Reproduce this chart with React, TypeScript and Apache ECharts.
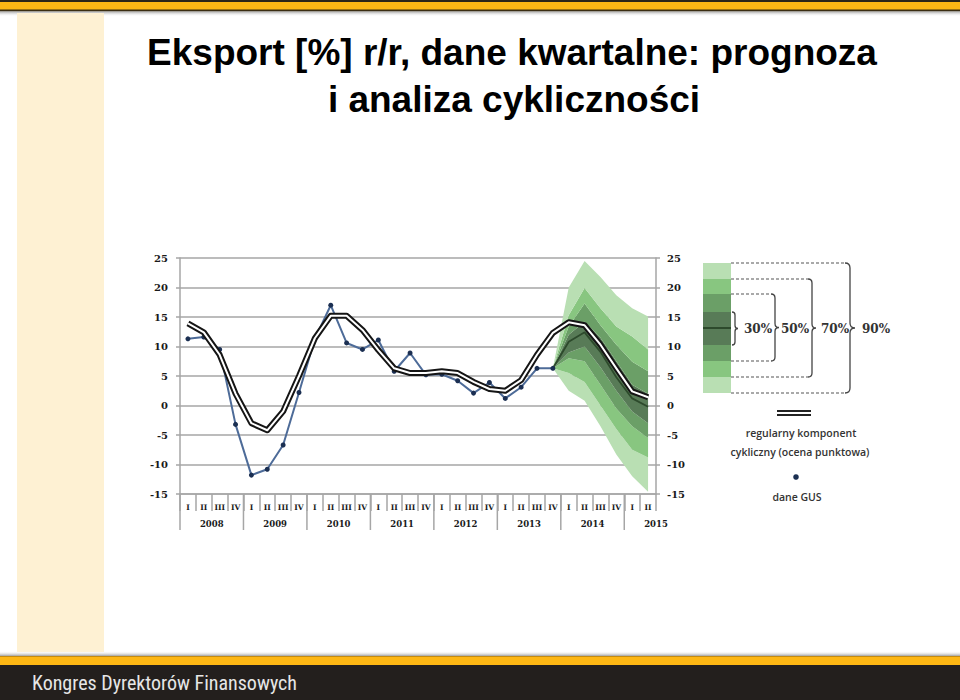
import React, { useEffect, useRef } from 'react';
import * as echarts from 'echarts';

// ---------- DATA ----------
const years = ['2008', '2009', '2010', '2011', '2012', '2013', '2014', '2015'];
const quarterNames = ['I', 'II', 'III', 'IV'];
const quartersPerYear = [4, 4, 4, 4, 4, 4, 4, 2];

// GUS data (dots), 2008 I .. 2013 IV
const gusData = [
  11.3, 11.6, 9.5, -3.2,
  -11.8, -10.8, -6.7, 2.2,
  11.3, 17.0, 10.6, 9.5,
  11.1, 5.8, 8.9, 5.2,
  5.3, 4.2, 2.1, 3.9,
  1.2, 3.1, 6.3, 6.3,
];

// regular cyclical component (double line), 2008 I .. 2015 II
const cyclicData = [
  13.9, 12.4, 8.6, 2.0,
  -3.0, -4.2, -1.0, 5.0,
  11.4, 15.2, 15.2, 12.8,
  9.4, 6.3, 5.5, 5.5,
  5.8, 5.5, 4.0, 2.8,
  2.5, 4.3, 8.6, 12.3,
  14.1, 13.6, 10.3, 6.3,
  2.4, 1.4,
];

// fan chart, from 2013 IV (index 23) to 2015 II
const fanStartIndex = 23;
const fanMedian = [6.3, 10.8, 12.4, 9.1, 4.8, 1.2, -0.2];
const fan90Low = [6.3, 2.5, 0.8, -3.5, -8.3, -12.0, -14.6];
const fan70Low = [6.3, 5.5, 4.0, 0.0, -4.0, -7.5, -8.8];
const fan50Low = [6.3, 8.0, 7.5, 3.5, -0.5, -3.5, -5.5];
const fan30Low = [6.3, 9.0, 10.0, 6.5, 2.5, -1.0, -3.0];
const fan30High = [6.3, 12.0, 14.2, 11.5, 7.5, 3.5, 2.0];
const fan50High = [6.3, 13.4, 17.3, 13.6, 10.3, 7.4, 5.8];
const fan70High = [6.3, 15.3, 19.9, 16.5, 13.4, 11.7, 9.5];
const fan90High = [6.3, 20.0, 24.5, 21.8, 18.7, 16.5, 15.1];

const yMin = -15;
const yMax = 25;
const yStep = 5;

const bandLabels = ['30%', '50%', '70%', '90%'];
const titleLines = ['Eksport [%] r/r, dane kwartalne: prognoza', 'i analiza cykliczności'];
const legendCyclic = ['regularny komponent', 'cykliczny (ocena punktowa)'];
const legendGus = 'dane GUS';
const footerText = 'Kongres Dyrektorów Finansowych';

// ---------- derived ----------
const categories: string[] = [];
const yearStarts: number[] = [];
const yearLabelAt: { pos: number; text: string }[] = [];
years.forEach((y, k) => {
  const start = categories.length;
  yearStarts.push(start);
  for (let q = 0; q < quartersPerYear[k]; q++) categories.push(`${y} ${quarterNames[q]}`);
  const full = quartersPerYear[k] === 4;
  yearLabelAt.push({ pos: full ? start + quartersPerYear[k] / 2 : start + quartersPerYear[k], text: y });
});
const totalQ = categories.length;

const pad = (arr: number[]) => [...Array(fanStartIndex).fill(null), ...arr];
const diff = (a: number[], b: number[]) => a.map((v, i) => +(v - b[i]).toFixed(3));

const C_LIGHT = '#b9dfb3';
const C_MED = '#88c680';
const C_DARK = '#6b9f67';
const C_DARKEST = '#587b57';
const C_MEDIAN = '#2d4a2c';

const BraceShape = (echarts as any).graphic.extendShape({
  type: 'brace',
  shape: { x: 0, y1: 0, y2: 0, r: 4, tip: 4 },
  buildPath(ctx: any, s: any) {
    const ym = (s.y1 + s.y2) / 2;
    ctx.moveTo(s.x - s.r, s.y1);
    ctx.quadraticCurveTo(s.x, s.y1, s.x, s.y1 + s.r);
    ctx.lineTo(s.x, ym - s.r);
    ctx.quadraticCurveTo(s.x, ym, s.x + s.tip, ym);
    ctx.quadraticCurveTo(s.x, ym, s.x, ym + s.r);
    ctx.lineTo(s.x, s.y2 - s.r);
    ctx.quadraticCurveTo(s.x, s.y2, s.x - s.r, s.y2);
  },
});
(echarts as any).graphic.registerShape('brace', BraceShape);

function txt(x: number, y: number, text: string, font: string, fill: string, align = 'center', valign = 'middle', z = 10) {
  return {
    type: 'text', x, y, z, silent: true,
    style: { text, font, fill, textAlign: align, align, textVerticalAlign: valign, verticalAlign: valign },
  };
}

export default function App() {
  const ref = useRef<HTMLDivElement>(null);

  useEffect(() => {
    document.body.style.margin = '0';
    if (!ref.current) return;
    const chart = echarts.init(ref.current, undefined, { renderer: 'svg' });

    const grey = '#a6a6a6';
    const axisFont = { fontFamily: '"DejaVu Serif", serif', fontWeight: 'bold' as const, color: '#1a1a1a' };

    const bandSeries: any[] = [
      {
        type: 'line', stack: 'fan', stackStrategy: 'all', data: pad(fan90Low), symbol: 'none',
        lineStyle: { width: 0, opacity: 0 }, silent: true, z: 2,
      },
    ];
    const layers: [number[], number[], string][] = [
      [fan70Low, fan90Low, C_LIGHT],
      [fan50Low, fan70Low, C_MED],
      [fan30Low, fan50Low, C_DARK],
      [fan30High, fan30Low, C_DARKEST],
      [fan50High, fan30High, C_DARK],
      [fan70High, fan50High, C_MED],
      [fan90High, fan70High, C_LIGHT],
    ];
    layers.forEach(([up, lo, color]) => {
      bandSeries.push({
        type: 'line', stack: 'fan', stackStrategy: 'all', data: pad(diff(up, lo)), symbol: 'none',
        lineStyle: { width: 0, opacity: 0 }, areaStyle: { color, opacity: 1 }, silent: true, z: 2,
      });
    });

    const swX = 703, swW = 28;
    const swatch: [number, number, string][] = [
      [263, 279, C_LIGHT], [279, 294, C_MED], [294, 312, C_DARK], [312, 345, C_DARKEST],
      [345, 361, C_DARK], [361, 377, C_MED], [377, 393, C_LIGHT],
    ];
    const legendEls: any[] = swatch.map(([a, b, c]) => ({
      type: 'rect', silent: true, shape: { x: swX, y: a, width: swW, height: b - a }, style: { fill: c },
    }));
    legendEls.push({ type: 'line', silent: true, shape: { x1: swX, y1: 328, x2: swX + swW, y2: 328 }, style: { stroke: C_MEDIAN, lineWidth: 2 } });
    const braces = [
      { x: 735, y1: 312, y2: 345, r: 3, tip: 3, lx: 744, dashed: false },
      { x: 775, y1: 294, y2: 361, r: 4, tip: 4, lx: 781, dashed: true },
      { x: 812, y1: 279, y2: 377, r: 4, tip: 4, lx: 821, dashed: true },
      { x: 850, y1: 263, y2: 393, r: 5, tip: 5, lx: 862, dashed: true },
    ];
    braces.forEach((b, i) => {
      if (b.dashed) {
        [b.y1, b.y2].forEach((yy) => legendEls.push({
          type: 'line', silent: true, shape: { x1: swX + swW, y1: yy, x2: b.x - b.r, y2: yy },
          style: { stroke: '#555', lineWidth: 1.2, lineDash: [3, 2] },
        }));
      }
      legendEls.push({
        type: 'brace', silent: true, shape: { x: b.x, y1: b.y1, y2: b.y2, r: b.r, tip: b.tip },
        style: { stroke: '#444', fill: 'none', lineWidth: 1.3 },
      });
      legendEls.push(txt(b.lx, 329, bandLabels[i], 'bold 12px "DejaVu Serif", serif', '#333', 'left'));
    });
    legendEls.push({ type: 'line', silent: true, shape: { x1: 777, y1: 411, x2: 811, y2: 411 }, style: { stroke: '#222', lineWidth: 1.8 } });
    legendEls.push({ type: 'line', silent: true, shape: { x1: 777, y1: 415, x2: 811, y2: 415 }, style: { stroke: '#222', lineWidth: 1.8 } });
    legendEls.push(txt(801, 433, legendCyclic[0], '600 10.5px "Open Sans", sans-serif', '#333'));
    legendEls.push(txt(800, 452, legendCyclic[1], '600 10.5px "Open Sans", sans-serif', '#333'));
    legendEls.push({ type: 'circle', silent: true, shape: { cx: 796, cy: 477, r: 2.8 }, style: { fill: '#1b2f52' } });
    legendEls.push(txt(797, 497, legendGus, '600 10.5px "Open Sans", sans-serif', '#333'));

    const frame: any[] = [
      { type: 'rect', silent: true, shape: { x: 0, y: 0, width: 960, height: 3 }, style: { fill: '#2c2418' } },
      { type: 'rect', silent: true, shape: { x: 0, y: 2, width: 960, height: 8 }, style: { fill: '#fdb614' } },
      { type: 'rect', silent: true, shape: { x: 0, y: 9.5, width: 960, height: 2 }, style: { fill: '#3b2e12' } },
      {
        type: 'rect', silent: true, shape: { x: 0, y: 11.5, width: 960, height: 5 },
        style: { fill: new echarts.graphic.LinearGradient(0, 0, 0, 1, [{ offset: 0, color: '#a8a8a8' }, { offset: 1, color: 'rgba(255,255,255,0)' }]) },
      },
      { type: 'rect', silent: true, shape: { x: 17, y: 13, width: 87, height: 639 }, style: { fill: '#fef1d3' } },
      {
        type: 'rect', silent: true, shape: { x: 0, y: 651, width: 960, height: 5 },
        style: { fill: new echarts.graphic.LinearGradient(0, 0, 0, 1, [{ offset: 0, color: 'rgba(255,255,255,0)' }, { offset: 1, color: '#a0a0a0' }]) },
      },
      { type: 'rect', silent: true, shape: { x: 0, y: 656, width: 960, height: 9 }, style: { fill: '#fdb614' } },
      { type: 'rect', silent: true, shape: { x: 0, y: 656, width: 960, height: 1 }, style: { fill: '#c48a10' } },
      { type: 'rect', silent: true, shape: { x: 0, y: 665, width: 960, height: 35 }, style: { fill: '#231f1d' } },
      txt(32, 683, footerText, '20px "Liberation Sans Narrow", "Roboto Condensed", "Arial Narrow", sans-serif', '#e6e6e6', 'left'),
      txt(512, 52, titleLines[0], 'bold 37px "Liberation Sans", Arial, sans-serif', '#000'),
      txt(514, 99, titleLines[1], 'bold 37px "Liberation Sans", Arial, sans-serif', '#000'),
    ];

    const option: any = {
      animation: false,
      backgroundColor: '#ffffff',
      grid: { left: 180, right: 304, top: 258, bottom: 206, containLabel: false, outerBoundsMode: 'none' },
      xAxis: [
        {
          type: 'category', position: 'bottom', data: categories, boundaryGap: true,
          axisLine: { show: true, onZero: false, lineStyle: { color: grey, width: 1.5 } },
          axisTick: { show: true, interval: 0, length: 17, lineStyle: { color: grey, width: 1.5 } },
          axisLabel: { interval: 0, margin: 9, fontSize: 7.5, ...axisFont, formatter: (v: string) => v.split(' ')[1] },
          splitLine: { show: false },
        },
        {
          // hidden quarter scale (0..30) used to place year separators and labels
          type: 'value', position: 'bottom', min: 0, max: totalQ, show: false,
        },
      ],
      yAxis: [
        {
          type: 'value', position: 'left', min: yMin, max: yMax, interval: yStep,
          axisLine: { show: true, onZero: false, lineStyle: { color: grey, width: 1.5 } },
          axisTick: { show: true, length: 4, lineStyle: { color: grey, width: 1.5 } },
          axisLabel: { margin: 12, fontSize: 10, ...axisFont },
          splitLine: { show: true, lineStyle: { color: grey, width: 1.5 } },
        },
        {
          type: 'value', position: 'right', min: yMin, max: yMax, interval: yStep,
          axisLine: { show: true, onZero: false, lineStyle: { color: grey, width: 1.5 } },
          axisTick: { show: true, length: 4, lineStyle: { color: grey, width: 1.5 } },
          axisLabel: { margin: 11, fontSize: 10, ...axisFont },
          splitLine: { show: false },
        },
      ],
      series: [
        ...bandSeries,
        { type: 'line', data: pad(fanMedian), symbol: 'none', silent: true, z: 3, lineStyle: { color: C_MEDIAN, width: 1.8 } },
        {
          type: 'line', data: gusData, symbol: 'circle', symbolSize: 5, silent: true, z: 4,
          lineStyle: { color: '#4d6b98', width: 2 }, itemStyle: { color: '#1b2f52' },
        },
        { type: 'line', data: cyclicData, symbol: 'none', silent: true, z: 5, lineStyle: { color: '#151515', width: 6, join: 'round' } },
        { type: 'line', data: cyclicData, symbol: 'none', silent: true, z: 6, lineStyle: { color: '#ffffff', width: 2, join: 'round' } },
      ],
      graphic: { elements: [...frame, ...legendEls] },
    };

    chart.setOption(option);

    // year separators and labels through the hidden quarter scale
    const yBase = chart.convertToPixel({ yAxisIndex: 0 }, yMin) as number;
    const xLeft = chart.convertToPixel({ xAxisIndex: 1 }, 0) as number;
    const xRight = chart.convertToPixel({ xAxisIndex: 1 }, totalQ) as number;
    const axisEls: any[] = [
      {
        type: 'rect', id: 'sepmask', silent: true, z: 90,
        shape: { x: xLeft - 3, y: yBase + 35.5, width: xRight - xLeft + 6, height: 5 },
        style: { fill: '#ffffff' },
      },
    ];
    yearStarts.forEach((s, i) => {
      const px = chart.convertToPixel({ xAxisIndex: 1 }, s) as number;
      axisEls.push({
        type: 'line', id: 'ysep' + i, silent: true, z: 95,
        shape: { x1: px, y1: yBase, x2: px, y2: yBase + 36 },
        style: { stroke: grey, lineWidth: 1.5 },
      });
    });
    yearLabelAt.forEach((yl, i) => {
      const px = chart.convertToPixel({ xAxisIndex: 1 }, yl.pos) as number;
      axisEls.push({ id: 'ylab' + i, ...txt(px, yBase + 30, yl.text, 'bold 8.5px "DejaVu Serif", serif', '#1a1a1a', 'center', 'middle', 96) });
    });
    chart.setOption({ graphic: { elements: [...frame, ...legendEls, ...axisEls] } }, { replaceMerge: ['graphic'] } as any);

    return () => chart.dispose();
  }, []);

  return <div ref={ref} style={{ width: 960, height: 700 }} />;
}
